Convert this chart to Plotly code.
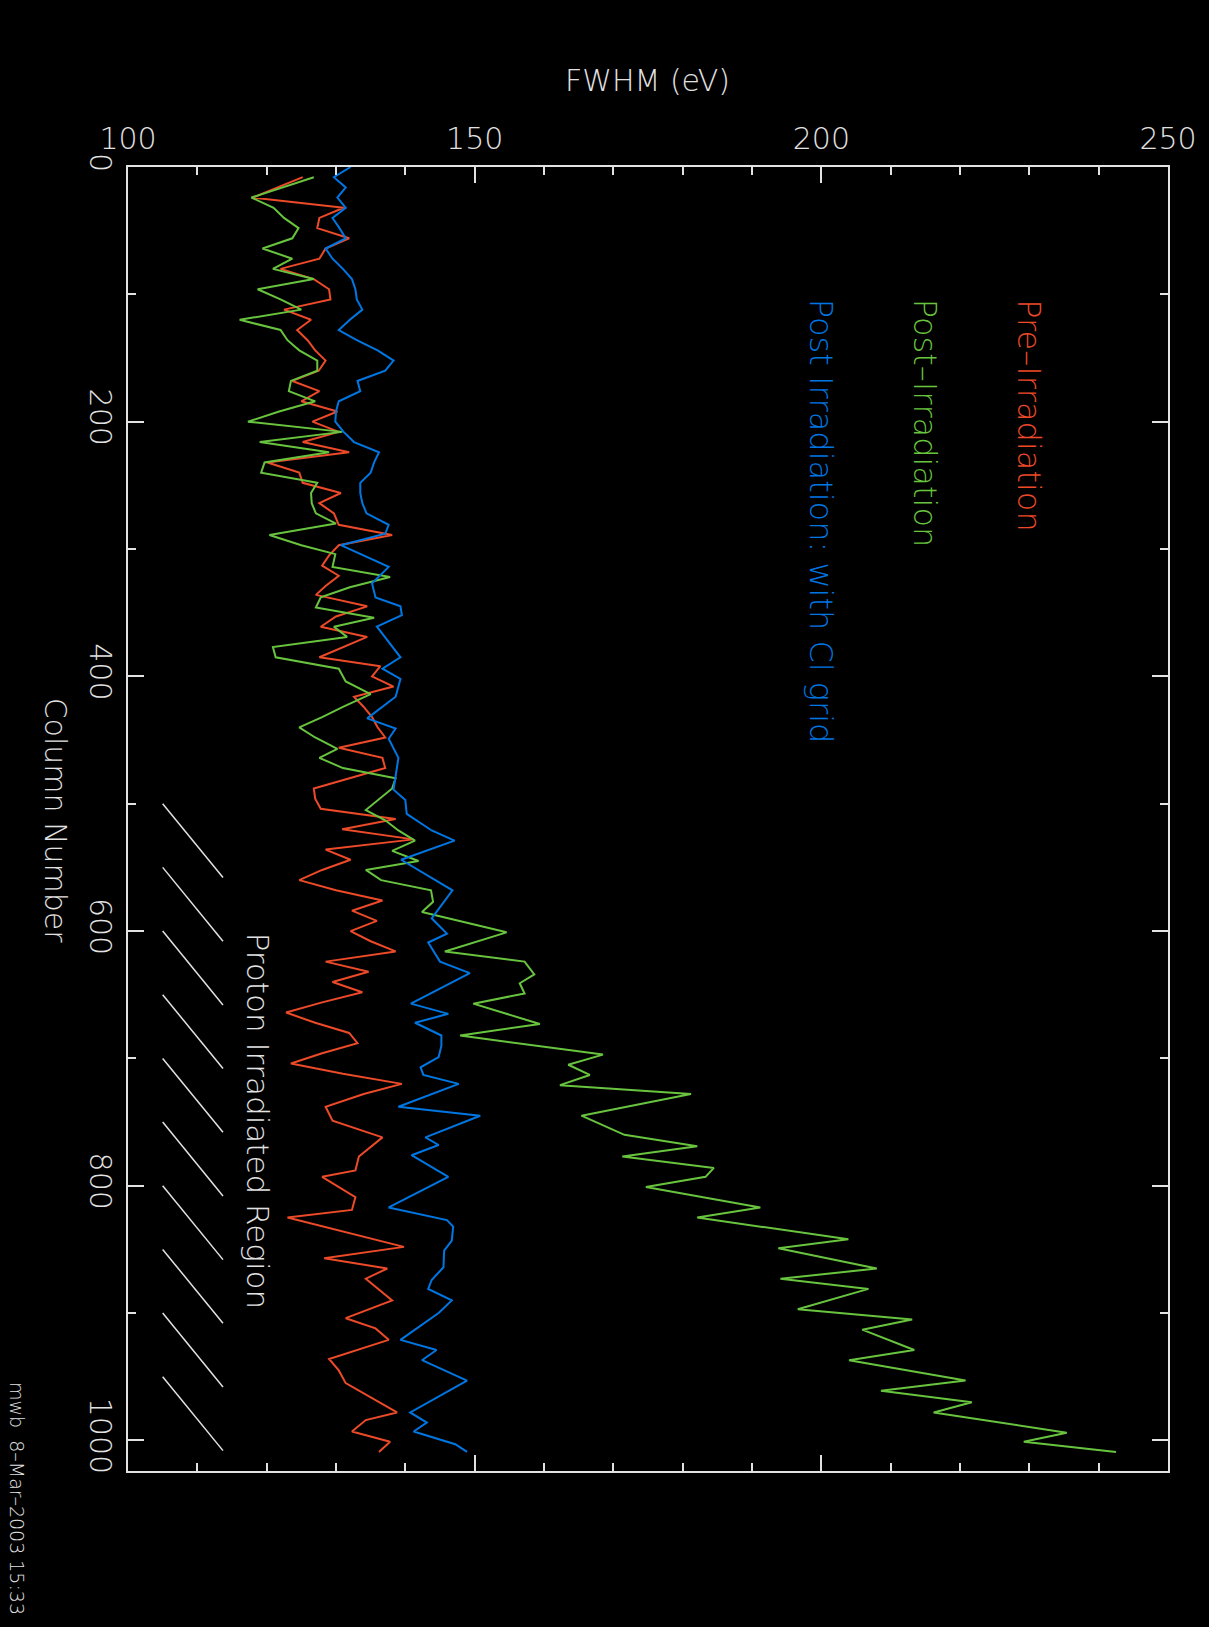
import plotly.graph_objects as go

# ---------------- data ----------------
red_col = [8, 24, 32, 40, 48, 56, 64, 72, 80, 88, 96, 104, 112, 120, 128, 136, 144, 152, 160, 168,
           176, 184, 192, 200, 208, 216, 224, 232, 240, 248, 256, 264, 272,
           281, 289, 297, 305, 313, 321, 329, 336, 345, 353, 361, 369, 377, 385,
           392, 400, 408, 416, 424, 432, 440, 448, 456, 464, 472, 480, 488, 496, 504, 512, 520, 528,
           536, 544, 552, 560, 568, 576, 584, 592, 600, 608, 616, 624, 632, 640, 648, 656, 664, 672,
           680, 688, 696, 704, 712, 720, 728,
           738, 749, 762, 777, 788, 793, 809, 819, 825, 848, 857, 865, 873, 890, 904, 912, 921, 936,
           945, 955, 978, 984, 993, 1001, 1009]
red_fwhm = [125.2, 118.0, 131.1, 127.6, 127.3, 131.9, 128.5, 127.6, 122.0, 126.8, 129.0, 129.2, 122.5,
            126.4, 124.4, 125.9, 127.0, 128.5, 127.5, 123.7, 127.6, 125.0, 130.2, 126.6, 130.4, 125.2,
            131.9, 120.1, 124.7, 125.2, 130.7, 127.6, 129.7,
            130.4, 138.1, 130.4, 129.0, 128.0, 130.4, 128.5, 127.1, 134.5, 130.0, 127.8, 134.5, 131.0, 127.6,
            136.4, 135.2, 138.3, 132.6, 134.0, 135.2, 136.0, 137.1, 130.4, 136.7, 137.1, 132.0, 126.8,
            127.0, 127.8, 138.6, 130.9, 141.2, 128.5, 132.1, 128.0, 124.7, 130.0, 136.7, 132.3, 135.9,
            132.1, 135.0, 138.6, 128.5, 134.7, 129.5, 133.8, 128.0, 122.8, 127.0, 131.9, 133.1, 128.0,
            123.5, 131.0, 139.5, 134.0,
            128.5, 129.5, 136.7, 133.3, 132.8, 128.0, 132.8, 132.3, 123.0, 139.8, 128.3, 137.4, 134.3,
            138.1, 131.4, 135.7, 137.6, 129.0, 130.4, 131.4, 138.8, 134.3, 132.3, 137.8, 136.2]

green_col = [8, 24, 32, 40, 48, 56, 64, 72, 80, 88, 96, 104, 112, 120, 128, 136, 144, 152, 160, 168,
             176, 184, 192, 200, 208, 216, 224, 232, 240, 248, 256, 264, 272, 280,
             289, 297, 304, 314, 322, 330, 338, 346, 354, 361, 369, 377, 385, 394, 404, 414, 424, 432,
             440, 448, 457, 464, 472, 480, 488, 497, 505, 513, 521, 529, 537, 545, 552, 560, 568, 577,
             585, 601, 616, 624, 634, 641, 649, 657, 673, 682, 697, 705, 713, 721, 728, 745, 760,
             769, 777, 786, 793, 801, 817, 825, 842, 849, 865, 873, 881, 897, 905, 913, 929, 937,
             953, 961, 970, 978, 994, 1001, 1009]
green_fwhm = [126.8, 117.8, 121.0, 122.5, 124.6, 123.7, 119.4, 123.7, 120.9, 126.8, 118.7, 122.0, 125.0,
              116.1, 122.0, 123.0, 124.7, 127.3, 127.3, 123.5, 123.2, 127.0, 121.8, 117.3, 130.9, 119.0,
              129.0, 119.7, 119.2, 127.3, 126.4, 126.5, 127.1, 130.0,
              120.4, 125.0, 129.9, 129.5, 137.8, 132.0, 127.8, 127.1, 135.5, 129.7, 131.6, 120.9, 121.3,
              130.4, 131.4, 135.0, 131.0, 128.0, 124.7, 127.0, 130.2, 127.6, 131.0, 138.6, 138.1, 136.0,
              134.3, 137.1, 139.0, 141.4, 138.1, 141.9, 134.3, 136.5, 143.7, 144.0,
              142.4, 154.6, 145.7, 157.2, 158.6, 156.5, 157.2, 149.8, 159.4, 147.9, 168.5, 163.5, 166.6,
              162.3, 181.2, 165.4, 171.6, 182.1, 171.3, 184.5, 183.3, 174.7, 191.2, 182.1, 203.9, 193.8,
              208.0, 194.1, 206.8, 196.6, 213.1, 205.9, 213.4, 204.0, 220.8, 208.6, 221.7, 216.2, 235.4,
              229.2, 242.5]

blue_col = [0, 8, 16, 24, 32, 40, 48, 56, 64, 72, 80, 88, 96, 104, 112, 120, 128, 136, 144, 152, 160,
            168, 176, 184, 192, 200, 208, 216, 224, 232, 240, 248, 256, 264, 272,
            281, 288, 297, 314, 327, 338, 345, 352, 361, 385, 394, 402, 416, 433, 441, 449, 464, 489,
            497, 508, 521, 529, 544, 568, 590, 602, 609, 624, 633, 657, 665, 672, 682, 690, 699, 707,
            713, 720, 738, 745, 762, 768, 776, 793, 817, 827, 832, 843, 851, 864, 874, 881, 890, 900,
            921, 929, 937, 953, 978, 986, 993, 1003, 1009]
blue_fwhm = [132.1, 129.7, 131.4, 130.2, 131.4, 129.5, 130.5, 131.4, 128.5, 129.5, 131.0, 132.3, 132.8,
             133.0, 133.8, 132.0, 130.4, 133.0, 136.0, 138.3, 137.1, 133.1, 133.5, 130.4, 130.0, 129.9,
             131.1, 132.6, 136.2, 135.5, 135.0, 133.5, 133.5, 133.8, 134.4,
             137.6, 137.1, 130.7, 137.6, 135.2, 135.7, 139.3, 139.5, 135.9, 139.3, 136.7, 139.3, 138.6,
             134.5, 138.6, 137.6, 139.0, 138.3, 140.0, 140.2, 143.8, 147.1, 139.4, 146.8, 143.8, 146.0,
             143.3, 145.0, 149.3, 140.8, 146.2, 141.4, 145.2, 145.2, 144.8, 142.2, 142.6, 147.7, 139.0,
             150.8, 142.9, 144.8, 140.9, 146.2, 137.6, 146.0, 146.9, 146.7, 145.6, 145.5, 143.8, 143.3,
             146.7, 144.8, 139.3, 144.5, 142.4, 148.9, 140.7, 143.1, 141.2, 147.2, 148.9]

series_names = ["Pre\u2013Irradiation", "Post\u2013Irradiation", "Post Irradiation: with Cl grid"]

# hatch marks of the "Proton Irradiated Region"
hatch_start = [500, 550, 600, 650, 700, 750, 800, 850, 900, 950]
hatch_x0, hatch_x1, hatch_dy = 105.0, 113.7, 58

x_range = [100, 250]
y_range = [1024, 0]

# ---------------- style ----------------
RED = "rgb(236,74,40)"
GREEN = "rgb(104,196,62)"
BLUE = "rgb(0,118,226)"
FG = "#e2e2e2"
FONT = "DejaVu Sans"
WEIGHT = 200

W, H = 1209, 1627
L, R, T, B = 128, 1173, 167, 1471


def fx(px):
    return (px - L) / (R - L)


def fy(py):
    return (B - py) / (B - T)


def font(size, color=FG):
    return dict(family=FONT, size=size, color=color, weight=WEIGHT)


fig = go.Figure()
for xs, ys, c in [(red_fwhm, red_col, RED), (green_fwhm, green_col, GREEN), (blue_fwhm, blue_col, BLUE)]:
    fig.add_trace(go.Scatter(x=xs, y=ys, mode="lines", line=dict(color=c, width=2),
                             hoverinfo="skip", showlegend=False))

hx, hy = [], []
for s in hatch_start:
    hx += [hatch_x0, hatch_x1, None]
    hy += [s, s + hatch_dy, None]
fig.add_trace(go.Scatter(x=hx, y=hy, mode="lines", line=dict(color=FG, width=1.5),
                         hoverinfo="skip", showlegend=False))

axis_common = dict(
    showgrid=False, zeroline=False, showline=True, linecolor=FG, linewidth=2,
    mirror="ticks", ticks="inside", ticklen=16, tickwidth=2, tickcolor=FG,
    tickfont=font(30),
)

fig.update_xaxes(range=x_range, side="top", tick0=100, dtick=50, ticklabelstandoff=4,
                 minor=dict(dtick=10, ticks="inside", ticklen=8, tickwidth=2, tickcolor=FG, showgrid=False),
                 **axis_common)
fig.update_yaxes(range=y_range, tick0=0, dtick=200, tickangle=90,
                 minor=dict(dtick=100, ticks="inside", ticklen=8, tickwidth=2, tickcolor=FG, showgrid=False),
                 **axis_common)

ann = []
ann.append(dict(text="FWHM (eV)", x=fx(650), y=fy(80), xref="paper", yref="paper",
                xanchor="center", yanchor="middle", showarrow=False, font=font(30)))
ann.append(dict(text="Column Number", x=fx(56), y=fy(821), xref="paper", yref="paper",
                xanchor="center", yanchor="middle", showarrow=False, textangle=90, font=font(30)))
for name, c, px in zip(series_names, [RED, GREEN, BLUE], [1033, 929, 825]):
    ann.append(dict(text=name, x=fx(px), y=fy(297), xref="paper", yref="paper",
                    xanchor="center", yanchor="top", showarrow=False, textangle=90,
                    font=font(32, c)))
ann.append(dict(text="Proton Irradiated Region", x=fx(259), y=fy(1121), xref="paper", yref="paper",
                xanchor="center", yanchor="middle", showarrow=False, textangle=90, font=font(31)))
ann.append(dict(text="mwb  8\u2013Mar\u20132003 15:33", x=fx(17), y=fy(1380), xref="paper", yref="paper",
                xanchor="center", yanchor="top", showarrow=False, textangle=90, font=font(19)))

fig.update_layout(
    width=W, height=H,
    margin=dict(l=L, r=W - R, t=T, b=H - B, pad=0),
    paper_bgcolor="black", plot_bgcolor="black",
    showlegend=False, annotations=ann,
)

fig.write_html("out.html")
